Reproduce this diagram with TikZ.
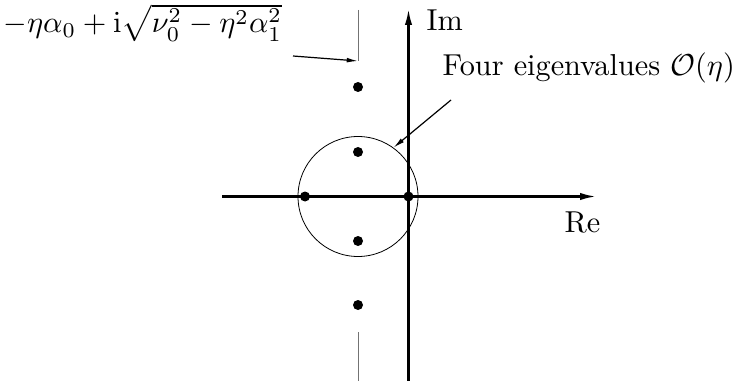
\documentclass[tikz,border=0pt]{standalone}
\usepackage{amsmath}
\usetikzlibrary{arrows.meta}
\begin{document}
\begin{tikzpicture}[x=0.75pt,y=-0.75pt,
  axis/.style={line width=1.6pt,-{Latex[length=12pt,width=5.5pt]}},
  pointer/.style={line width=0.9pt,-{Latex[length=8.5pt,width=3.6pt]}},
  dotnode/.style={circle,fill=black,inner sep=0pt,minimum size=7.5pt},
  guide/.style={draw=black!55,line width=0.7pt},
  lbl/.style={inner sep=0pt,font=\fontsize{10}{12}\selectfont,scale=2.27}]
\useasboundingbox (0,0) rectangle (742,381);
% axes
\coordinate (reL) at (222,196.5);
\coordinate (reR) at (596,196.5);
\coordinate (imB) at (408.5,381);
\coordinate (imT) at (408.5,9);
\draw[axis] (reL) -- (reR);
\draw[axis] (imB) -- (imT);
% circle
\node (ring) [circle,draw,line width=0.6pt,minimum size=90pt,inner sep=0pt] at (358,196.5) {};
% eigenvalues
\node (e1) [dotnode] at (305,196.5) {};
\node (e2) [dotnode] at (408.5,196.5) {};
\node (e3) [dotnode] at (358,152) {};
\node (e4) [dotnode] at (358,241) {};
\node (e5) [dotnode] at (358,87) {};
\node (e6) [dotnode] at (358,305) {};
% guide segments
\coordinate (gt1) at (358,10);
\coordinate (gt2) at (358,61);
\coordinate (gb1) at (358,332);
\coordinate (gb2) at (358,381);
\draw[guide] (gt1) -- (gt2);
\draw[guide] (gb1) -- (gb2);
% labels
\node (lab) [lbl,anchor=base west] at (3,33) {$-\eta\alpha_0+\mathrm{i}\sqrt{\nu_0^2-\eta^2\alpha_1^2}$};
\node (im) [lbl,anchor=base west] at (426,31) {Im};
\node (re) [lbl,anchor=base west] at (564,232) {Re};
\node (four) [lbl,anchor=base west] at (442,76) {Four eigenvalues $\mathcal{O}(\eta)$};
% pointers
\coordinate (p1) at (293,56);
\draw[pointer] (p1) -- (gt2);
\coordinate (p2) at (451,100);
\draw[pointer] (p2) -- (ring.54);
\end{tikzpicture}
\end{document}
